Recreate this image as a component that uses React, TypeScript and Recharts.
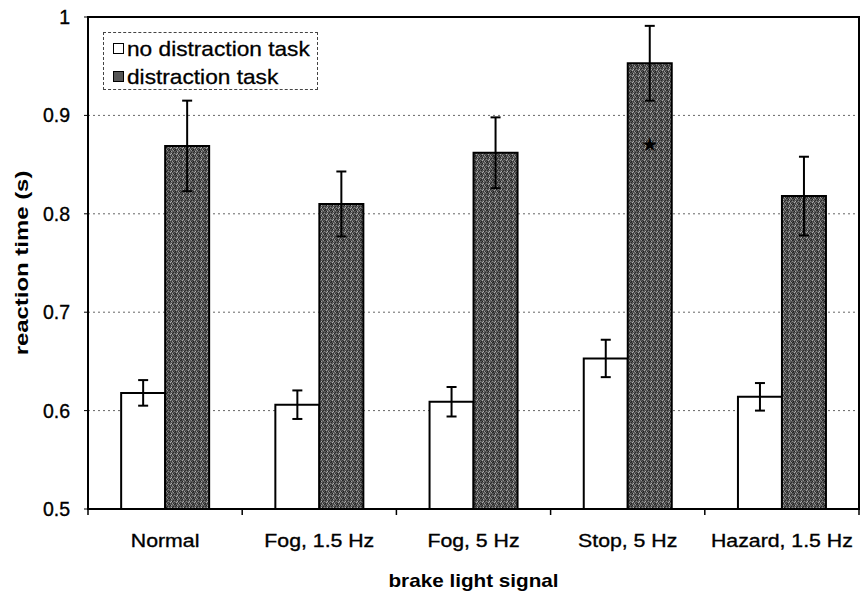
import React from 'react';
import {
  BarChart,
  Bar,
  XAxis,
  YAxis,
  CartesianGrid,
  ErrorBar,
  Legend,
  ReferenceArea,
  LabelList,
} from 'recharts';

const categories = ['Normal', 'Fog, 1.5 Hz', 'Fog, 5 Hz', 'Stop, 5 Hz', 'Hazard, 1.5 Hz'];
const noDistraction = [0.618, 0.606, 0.609, 0.653, 0.614];
const noDistractionErr = [0.013, 0.0145, 0.015, 0.019, 0.014];
const distraction = [0.869, 0.81, 0.862, 0.953, 0.818];
const distractionErr = [0.046, 0.033, 0.036, 0.038, 0.04];
const significance: (number | null)[] = [null, null, null, 0.871, null];
const yTicks = [0.5, 0.6, 0.7, 0.8, 0.9, 1];
const seriesOrder = ['noDist', 'dist'];
const Y_MIN = 0.5;
const Y_MAX = 1;

const data = categories.map((name, i) => ({
  name,
  pos: i + 0.5,
  noDist: noDistraction[i],
  noDistErr: noDistractionErr[i],
  dist: distraction[i],
  distErr: distractionErr[i],
  sig: significance[i],
}));

const FONT = '"Liberation Sans", Arial, sans-serif';

const speckles: [number, number, string][] = [
  [0, 0, '#262626'], [3, 1, '#a0a0a0'], [1, 2, '#2c2c2c'], [4, 3, '#222222'],
  [2, 4, '#a8a8a8'], [5, 5, '#303030'], [0, 4, '#3a3a3a'], [5, 0, '#909090'],
  [2, 1, '#1e1e1e'], [4, 5, '#989898'], [1, 5, '#202020'], [3, 3, '#b0b0b0'],
  [1, 0, '#363636'], [5, 2, '#2a2a2a'], [0, 3, '#858585'], [3, 5, '#343434'],
];

const EmptyTick = () => <g />;

const XTick = (props: any) => {
  const { x, y, payload } = props;
  return (
    <g transform={`translate(${x},${y})`}>
      <text
        transform="scale(1.15,1)"
        textAnchor="middle"
        dy="0.71em"
        fontSize={18.5}
        fontFamily={FONT}
        fill="#000"
        stroke="#000"
        strokeWidth={0.35}
      >
        {payload.value}
      </text>
    </g>
  );
};

const YTick = (props: any) => {
  const { x, y, payload } = props;
  return (
    <text
      x={x}
      y={y}
      textAnchor="end"
      dominantBaseline="central"
      fontSize={19.5}
      fontFamily={FONT}
      fill="#000"
      stroke="#000"
      strokeWidth={0.35}
    >
      {payload.value}
    </text>
  );
};

const YTitle = (props: any) => {
  const vb = props.viewBox || {};
  const cx = (vb.x || 0) + 22;
  const cy = (vb.y || 0) + (vb.height || 0) / 2;
  return (
    <text
      transform={`translate(${cx},${cy}) rotate(-90) scale(1.33,1)`}
      textAnchor="middle"
      dominantBaseline="central"
      fontSize={18}
      fontWeight="bold"
      fontFamily={FONT}
      fill="#000"
    >
      reaction time (s)
    </text>
  );
};

const XTitle = (props: any) => {
  const vb = props.viewBox || {};
  const cx = (vb.x || 0) + (vb.width || 0) / 2;
  const cy = (vb.y || 0) + 71;
  return (
    <text
      transform={`translate(${cx},${cy}) scale(1.15,1)`}
      textAnchor="middle"
      dominantBaseline="central"
      fontSize={18}
      fontWeight="bold"
      fontFamily={FONT}
      fill="#000"
    >
      brake light signal
    </text>
  );
};

const StarMark = (props: any) => {
  const vb = props.viewBox || props;
  const { x, y, width, height } = vb;
  const index = props.index;
  if (index == null) return null;
  const s = significance[index];
  if (s == null) return null;
  const top = distraction[index];
  const cy = y + (height * (top - s)) / (top - Y_MIN);
  return (
    <text
      x={x + width / 2}
      y={cy}
      textAnchor="middle"
      dominantBaseline="central"
      fontSize={19}
      fontFamily="DejaVu Sans"
      fill="#000"
    >
      ★
    </text>
  );
};

const LegendBox = (props: any) => {
  const payload = [...(props.payload || [])].sort(
    (a: any, b: any) => seriesOrder.indexOf(a.dataKey) - seriesOrder.indexOf(b.dataKey)
  );
  return (
    <div
      style={{
        width: 215,
        height: 58,
        boxSizing: 'border-box',
        border: '1px dashed #444',
        fontFamily: FONT,
        fontSize: 21,
        color: '#000',
        paddingTop: 1,
        paddingLeft: 9,
        lineHeight: '29px',
      }}
    >
      {payload.map((p: any) => (
        <div key={p.value} style={{ display: 'flex', alignItems: 'center', height: 28 }}>
          <span
            style={{
              display: 'inline-block',
              width: 11,
              height: 11,
              boxSizing: 'border-box',
              border: '1.5px solid #000',
              background: p.dataKey === 'dist' ? '#555' : '#fff',
              marginRight: 3,
            }}
          />
          <span
            style={{
              display: 'inline-block',
              transform: 'scaleX(1.08)',
              transformOrigin: 'left center',
              whiteSpace: 'nowrap',
              WebkitTextStroke: '0.3px #000',
            }}
          >
            {p.value}
          </span>
        </div>
      ))}
    </div>
  );
};

export default function App() {
  return (
    <div style={{ position: 'absolute', left: 0, top: 0, width: 864, height: 597, background: '#fff' }}>
      <BarChart
        width={864}
        height={597}
        data={data}
        margin={{ top: 17, right: 5, bottom: 0, left: 0 }}
        barCategoryGap="21.5%"
        barGap={0}
      >
        <defs>
          <pattern id="speckle" width="6" height="6" patternUnits="userSpaceOnUse">
            <rect width="6" height="6" fill="#585858" />
            {speckles.map(([sx, sy, c], i) => (
              <rect key={i} x={sx} y={sy} width={1} height={1} fill={c} />
            ))}
          </pattern>
        </defs>
        <CartesianGrid xAxisId="b" vertical={false} stroke="#666" strokeDasharray="2 3" />
        <XAxis
          xAxisId="a"
          type="number"
          dataKey="pos"
          domain={[0, 5]}
          ticks={[0, 1, 2, 3, 4, 5]}
          interval={0}
          height={1}
          tick={<EmptyTick />}
          axisLine={false}
          tickLine={{ stroke: '#000', strokeWidth: 1.5 }}
          tickSize={6}
        />
        <XAxis
          xAxisId="b"
          dataKey="name"
          height={87}
          axisLine={false}
          tickLine={false}
          tickSize={0}
          tickMargin={24}
          interval={0}
          tick={<XTick />}
          label={{ content: <XTitle /> }}
        />
        <YAxis
          width={88}
          domain={[Y_MIN, Y_MAX]}
          ticks={yTicks}
          interval={0}
          axisLine={false}
          tickLine={{ stroke: '#000', strokeWidth: 1 }}
          tickSize={4}
          tickMargin={14}
          tick={<YTick />}
          label={{ content: <YTitle /> }}
        />
        <Legend
          layout="vertical"
          verticalAlign="middle"
          align="center"
          content={<LegendBox />}
          wrapperStyle={{ position: 'absolute', left: 103, top: 32, width: 215, height: 58 }}
        />
        <Bar
          xAxisId="b"
          dataKey="noDist"
          name="no distraction task"
          fill="#ffffff"
          stroke="#000"
          strokeWidth={2}
          isAnimationActive={false}
        >
          <ErrorBar dataKey="noDistErr" width={5} stroke="#000" strokeWidth={2} />
        </Bar>
        <Bar
          xAxisId="b"
          dataKey="dist"
          name="distraction task"
          fill="url(#speckle)"
          stroke="#000"
          strokeWidth={2}
          isAnimationActive={false}
        >
          <ErrorBar dataKey="distErr" width={5} stroke="#000" strokeWidth={2} />
          <LabelList dataKey="sig" content={<StarMark />} />
        </Bar>
        <ReferenceArea
          xAxisId="a"
          x1={0}
          x2={5}
          y1={Y_MIN}
          y2={Y_MAX}
          fill="none"
          stroke="#000"
          strokeWidth={2}
        />
      </BarChart>
    </div>
  );
}
